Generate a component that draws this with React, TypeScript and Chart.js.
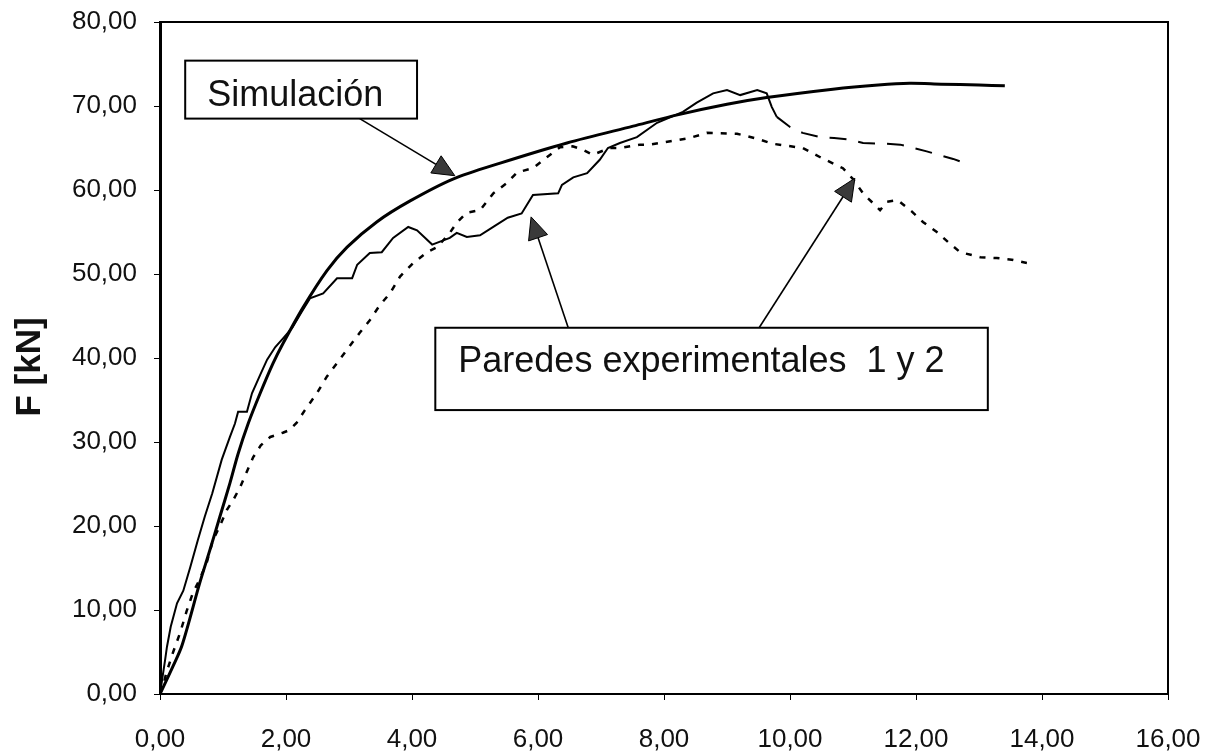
import React, { useEffect, useRef } from "react";
import { Chart, registerables } from "chart.js";

Chart.register(...registerables);

// ---- Data ----
const simX = [0, 0.2, 0.35, 0.63, 0.79, 0.95, 1.11, 1.24, 1.4, 1.59, 1.79, 1.95, 2.27, 2.65, 2.97, 3.44, 3.97, 4.65, 5.4, 6.46, 7.51, 8.25, 9.0, 9.63, 10.68, 11.4, 11.9, 12.4, 13.0, 13.41];
const simY = [0, 3.2, 5.8, 13.2, 17.1, 21.1, 25.1, 28.6, 32.2, 35.8, 39.3, 41.7, 46.0, 50.4, 53.2, 56.2, 58.7, 61.3, 63.2, 65.6, 67.6, 69.0, 70.2, 71.0, 72.0, 72.5, 72.7, 72.6, 72.5, 72.4];

const exp1X = [0, 0.04, 0.08, 0.11, 0.17, 0.27, 0.37, 0.48, 0.6, 0.71, 0.83, 0.98, 1.11, 1.19, 1.24, 1.38, 1.46, 1.59, 1.7, 1.83, 1.95, 2.1, 2.25, 2.38, 2.59, 2.81, 3.05, 3.13, 3.33, 3.52, 3.7, 3.94, 4.08, 4.32, 4.6, 4.71, 4.87, 5.08, 5.29, 5.52, 5.74, 5.92, 6.32, 6.38, 6.56, 6.78, 6.98, 7.11, 7.3, 7.57, 7.89, 8.3, 8.52, 8.78, 9.0, 9.21, 9.48, 9.63, 9.71, 9.79, 10.0, 10.2, 10.48, 10.7, 10.95, 11.16, 11.54, 11.75, 12.17, 12.35, 12.59, 12.78];
const exp1Y = [0, 2, 4, 5.6, 8, 10.8, 12.3, 15.1, 18.3, 21.1, 23.9, 27.9, 30.6, 32.2, 33.6, 33.6, 35.8, 38.0, 39.8, 41.3, 42.3, 43.6, 45.5, 47.1, 47.7, 49.5, 49.5, 51.1, 52.5, 52.6, 54.3, 55.6, 55.2, 53.5, 54.3, 54.9, 54.4, 54.6, 55.6, 56.7, 57.2, 59.4, 59.6, 60.6, 61.5, 62.0, 63.6, 65.0, 65.6, 66.3, 68.0, 69.3, 70.4, 71.5, 71.9, 71.3, 71.9, 71.5, 69.9, 68.7, 67.5, 66.8, 66.3, 66.2, 66.0, 65.6, 65.5, 65.4, 64.6, 64.2, 63.7, 63.2];

const exp2X = [0, 0.05, 0.1, 0.2, 0.32, 0.42, 0.52, 0.62, 0.74, 0.84, 0.95, 1.06, 1.17, 1.27, 1.38, 1.48, 1.6, 1.75, 1.95, 2.05, 2.17, 2.3, 2.49, 2.65, 2.81, 2.95, 3.17, 3.33, 3.49, 3.65, 3.81, 4.02, 4.24, 4.4, 4.6, 4.71, 4.87, 5.08, 5.29, 5.5, 5.67, 5.92, 6.14, 6.35, 6.55, 6.71, 6.87, 7.14, 7.3, 7.62, 7.78, 8.1, 8.41, 8.68, 9.16, 9.48, 9.73, 10.2, 10.48, 10.84, 11.0, 11.16, 11.43, 11.54, 11.71, 11.94, 12.11, 12.33, 12.51, 12.7, 13.02, 13.28, 13.52, 13.76];
const exp2Y = [0, 1, 2.5, 4.8, 7.3, 9.8, 12, 13.5, 15.6, 18.3, 20, 21.9, 23.2, 24.6, 26.5, 28.2, 29.6, 30.6, 31.1, 31.4, 32.3, 33.8, 35.8, 37.8, 39.4, 40.8, 43.0, 44.5, 46.3, 47.7, 49.7, 51.3, 52.6, 53.2, 54.9, 56.1, 57.3, 57.6, 59.6, 60.8, 62.1, 62.6, 63.9, 65.1, 65.2, 64.8, 64.2, 65.0, 65.0, 65.4, 65.4, 65.8, 66.2, 66.8, 66.7, 66.1, 65.5, 65.0, 63.9, 62.6, 61.3, 59.6, 57.6, 58.6, 58.8, 57.4, 56.2, 55.0, 53.8, 52.6, 52.0, 51.9, 51.7, 51.3];

const xTicks = [0, 2, 4, 6, 8, 10, 12, 14, 16];
const yTicks = [0, 10, 20, 30, 40, 50, 60, 70, 80];

const yTitle = "F [kN]";
const label1 = "Simulación";
const label2 = "Paredes experimentales  1 y 2";

// ---- Annotation layout (data coordinates) ----
const box1 = { x0: 0.4, x1: 4.08, yTop: 75.4, yBot: 68.5 };
const box2 = { x0: 4.37, x1: 13.14, yTop: 43.6, yBot: 33.8 };
const arrows = [
  { from: [3.17, 68.5], to: [4.68, 61.7] },
  { from: [6.48, 43.6], to: [5.89, 56.8] },
  { from: [9.51, 43.6], to: [11.03, 61.4] },
];

const FONT = "'Liberation Sans', Arial, sans-serif";
const fmt = (v: number) => v.toFixed(2).replace(".", ",");
const toPts = (xs: number[], ys: number[]) => xs.map((x, i) => ({ x, y: ys[i] }));

const annotationPlugin = {
  id: "annots",
  afterDatasetsDraw(chart: any) {
    const { ctx, chartArea, scales } = chart;
    const xs = scales.x;
    const ys = scales.y;
    ctx.save();
    // frame
    ctx.strokeStyle = "#000";
    ctx.lineWidth = 2;
    ctx.strokeRect(chartArea.left, chartArea.top, chartArea.right - chartArea.left, chartArea.bottom - chartArea.top);

    // arrows
    for (const a of arrows) {
      const x0 = xs.getPixelForValue(a.from[0]);
      const y0 = ys.getPixelForValue(a.from[1]);
      const x1 = xs.getPixelForValue(a.to[0]);
      const y1 = ys.getPixelForValue(a.to[1]);
      const ang = Math.atan2(y1 - y0, x1 - x0);
      const L = 22;
      const W = 10;
      const bx = x1 - L * Math.cos(ang);
      const by = y1 - L * Math.sin(ang);
      ctx.strokeStyle = "#000";
      ctx.lineWidth = 1.6;
      ctx.beginPath();
      ctx.moveTo(x0, y0);
      ctx.lineTo(bx, by);
      ctx.stroke();
      ctx.beginPath();
      ctx.moveTo(x1, y1);
      ctx.lineTo(bx + W * Math.sin(ang), by - W * Math.cos(ang));
      ctx.lineTo(bx - W * Math.sin(ang), by + W * Math.cos(ang));
      ctx.closePath();
      ctx.fillStyle = "#3a3a3a";
      ctx.fill();
      ctx.lineWidth = 1;
      ctx.stroke();
    }

    // boxes
    const drawBox = (b: any, text: string, padX: number, baseOff: number) => {
      const l = xs.getPixelForValue(b.x0);
      const r = xs.getPixelForValue(b.x1);
      const t = ys.getPixelForValue(b.yTop);
      const bt = ys.getPixelForValue(b.yBot);
      ctx.fillStyle = "#fff";
      ctx.fillRect(l, t, r - l, bt - t);
      ctx.strokeStyle = "#000";
      ctx.lineWidth = 2;
      ctx.strokeRect(l, t, r - l, bt - t);
      ctx.fillStyle = "#111";
      ctx.font = `36px ${FONT}`;
      ctx.textAlign = "left";
      ctx.textBaseline = "alphabetic";
      ctx.fillText(text, l + padX, t + baseOff);
    };
    drawBox(box1, label1, 22, 45);
    drawBox(box2, label2, 23, 44);

    // y title
    ctx.save();
    ctx.translate(30, 367);
    ctx.rotate(-Math.PI / 2);
    ctx.fillStyle = "#111";
    ctx.font = `bold 35px ${FONT}`;
    ctx.textAlign = "center";
    ctx.textBaseline = "middle";
    ctx.fillText(yTitle, 0, 0);
    ctx.restore();

    ctx.restore();
  },
};

export default function App() {
  const ref = useRef<HTMLCanvasElement | null>(null);
  useEffect(() => {
    if (!ref.current) return;
    const chart = new Chart(ref.current, {
      type: "line",
      data: {
        datasets: [
          {
            label: label1,
            data: toPts(simX, simY),
            borderColor: "#000",
            borderWidth: 3,
            pointRadius: 0,
            tension: 0.3,
            fill: false,
          },
          {
            label: "Pared 1",
            data: toPts(exp1X, exp1Y),
            borderColor: "#000",
            borderWidth: 2,
            pointRadius: 0,
            tension: 0,
            fill: false,
            segment: {
              borderDash: (c: any) => (c.p0.parsed.x >= 9.75 ? [17, 12] : undefined),
            },
          },
          {
            label: "Pared 2",
            data: toPts(exp2X, exp2Y),
            borderColor: "#000",
            borderWidth: 2.5,
            borderDash: [6, 8],
            pointRadius: 0,
            tension: 0,
            fill: false,
          },
        ],
      },
      options: {
        responsive: false,
        animation: false,
        devicePixelRatio: 1,
        layout: { padding: 0 },
        plugins: { legend: { display: false }, tooltip: { enabled: false }, title: { display: false } },
        scales: {
          x: {
            type: "linear",
            min: 0,
            max: 16,
            afterBuildTicks: (s: any) => {
              s.ticks = xTicks.map((v) => ({ value: v }));
            },
            afterFit: (s: any) => {
              s.height = 57;
              s.paddingLeft = 0;
              s.paddingRight = 40;
            },
            ticks: {
              callback: (v: any) => fmt(Number(v)),
              font: { family: FONT, size: 26 },
              color: "#111",
              padding: 24,
              maxRotation: 0,
            },
            grid: { drawOnChartArea: false, drawTicks: true, tickLength: 6, color: "#000" },
            border: { display: true, color: "#000", width: 2 },
          },
          y: {
            type: "linear",
            min: 0,
            max: 80,
            afterBuildTicks: (s: any) => {
              s.ticks = yTicks.map((v) => ({ value: v }));
            },
            afterFit: (s: any) => {
              s.width = 160;
              s.paddingTop = 22;
              s.paddingBottom = 0;
            },
            ticks: {
              callback: (v: any) => fmt(Number(v)),
              font: { family: FONT, size: 26 },
              color: "#111",
              padding: 17,
            },
            grid: { drawOnChartArea: false, drawTicks: true, tickLength: 6, color: "#000" },
            border: { display: true, color: "#000", width: 3 },
          },
        },
      },
      plugins: [annotationPlugin],
    });
    return () => chart.destroy();
  }, []);
  return (
    <div style={{ position: "absolute", left: 0, top: 0, width: 1208, height: 751, background: "#fff" }}>
      <canvas ref={ref} width={1208} height={751} style={{ display: "block" }} />
    </div>
  );
}
